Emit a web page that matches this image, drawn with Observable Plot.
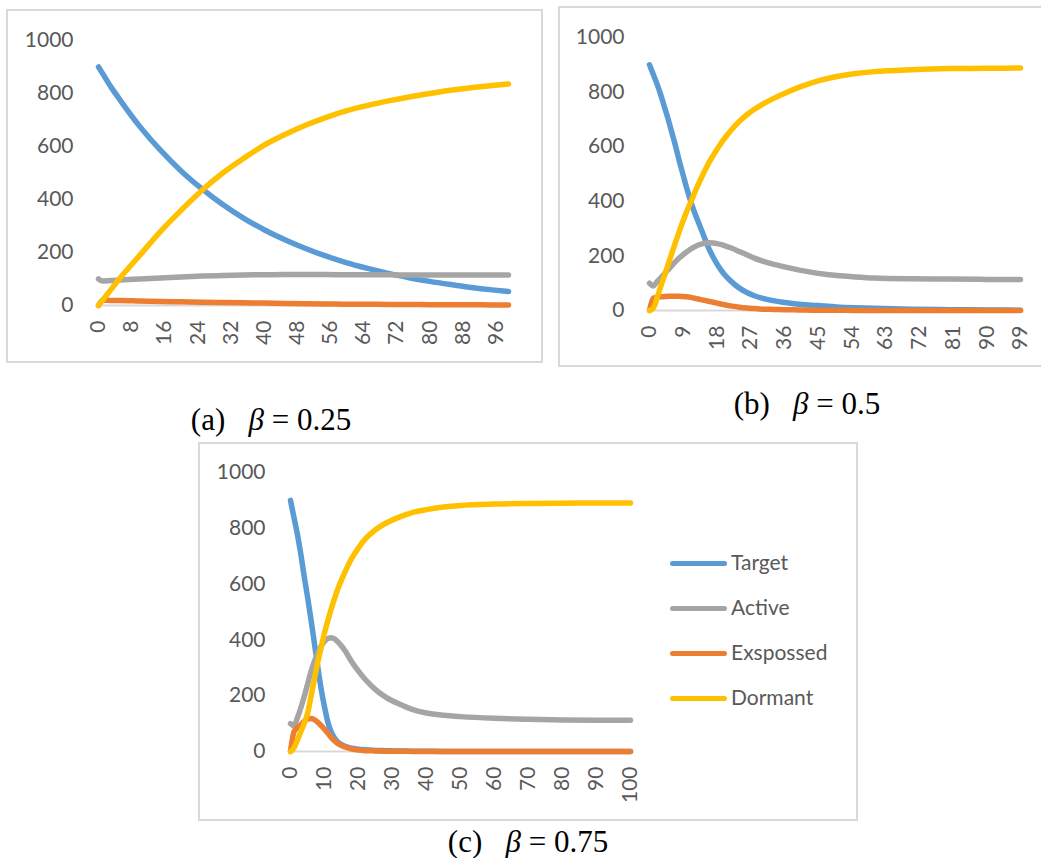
<!DOCTYPE html>
<html>
<head>
<meta charset="utf-8">
<script src="https://cdn.jsdelivr.net/npm/d3@7"></script>
<script src="https://cdn.jsdelivr.net/npm/@observablehq/plot@0.6"></script>
<style>
  html, body { margin: 0; padding: 0; background: #fff; }
  #page { position: relative; width: 1041px; height: 858px; overflow: hidden; background: #fff; }
  .panel { position: absolute; outline: 2px solid #d9d9d9; outline-offset: -1px; background: #fff; }
  .panel svg { display: block; }
  .cap { position: absolute; font-family: "Liberation Serif", "Times New Roman", serif; font-size: 31px; line-height: 30px; color: #000; white-space: pre; transform: translateX(-50%); }
  .cap i { font-style: italic; }
  .leg { position: absolute; font-family: Lato, "Open Sans", sans-serif; font-size: 21px; color: #595959; line-height: 26px; }
  .legline { position: absolute; height: 5px; width: 57px; border-radius: 3px; }
</style>
</head>
<body>
<div id="page"></div>
<script>
// ---------- data ----------
const seriesNames = ["Target", "Active", "Exspossed", "Dormant"];
const seriesColors = ["#5B9BD5", "#A5A5A5", "#ED7D31", "#FFC000"];
const yTicks = [0, 200, 400, 600, 800, 1000];

// (a) beta = 0.25
const timeA = [0, 1, 3, 5, 10, 15, 20, 25, 30, 35, 40, 45, 50, 55, 60, 65, 70, 75, 80, 85, 90, 95, 99];
const targetA = [900, 875, 825, 780, 675, 585, 507, 440, 381, 330, 286, 248, 215, 186, 161, 140, 121, 105, 91, 79, 68, 59, 53];
const activeA = [100, 92, 94, 96, 100, 104, 108, 111, 113, 115, 116, 117, 117, 117, 116, 116, 116, 115, 115, 115, 115, 115, 115];
const exposedA = [0, 20, 19, 19, 17, 15, 14, 12, 11, 10, 9, 8, 7, 6, 5, 5, 4, 4, 3, 3, 3, 2, 2];
const dormantA = [0, 20, 60, 100, 190, 280, 360, 435, 500, 555, 605, 645, 680, 710, 735, 755, 772, 787, 800, 812, 822, 830, 836];
const xTicksA = [0, 8, 16, 24, 32, 40, 48, 56, 64, 72, 80, 88, 96];

// (b) beta = 0.5
const timeB = [0, 1, 2, 3, 4, 5, 6, 7, 8, 9, 10, 11, 12, 13, 14, 15, 16, 17, 18, 19, 20, 22, 24, 26, 28, 30, 33, 36, 40, 45, 50, 55, 60, 70, 80, 90, 99];
const targetB = [900, 865, 830, 790, 745, 700, 650, 600, 545, 495, 445, 400, 360, 325, 290, 255, 222, 195, 171, 150, 132, 104, 82, 66, 54, 45, 36, 29, 23, 18, 13, 10, 8, 5, 3, 2, 1];
const activeB = [100, 90, 105, 120, 135, 150, 165, 180, 193, 205, 215, 225, 233, 240, 244, 247, 248, 247, 245, 242, 238, 228, 216, 204, 192, 182, 170, 160, 148, 136, 128, 123, 119, 116, 115, 114, 114];
const exposedB = [0, 44, 48, 50, 51, 52, 52, 52, 52, 51, 50, 48, 45, 42, 39, 36, 33, 30, 27, 24, 21, 16, 12, 9, 7, 5, 4, 3, 2, 1, 1, 0, 0, 0, 0, 0, 0];
const dormantB = [0, 8, 45, 88, 128, 170, 212, 252, 292, 330, 365, 397, 430, 461, 491, 519, 545, 568, 590, 611, 630, 664, 693, 717, 737, 754, 776, 795, 818, 841, 857, 868, 875, 882, 886, 887, 888];
const xTicksB = [0, 9, 18, 27, 36, 45, 54, 63, 72, 81, 90, 99];

// (c) beta = 0.75
const timeC = [0, 1, 2, 3, 4, 5, 6, 7, 8, 9, 10, 11, 12, 13, 14, 15, 16, 18, 20, 22, 25, 28, 32, 36, 40, 45, 50, 60, 70, 80, 90, 100];
const targetC = [900, 840, 780, 710, 630, 555, 475, 390, 305, 225, 160, 105, 70, 47, 33, 25, 19, 12, 8, 6, 4, 3, 2, 1, 1, 0, 0, 0, 0, 0, 0, 0];
const activeC = [100, 92, 120, 155, 195, 240, 285, 322, 353, 378, 395, 405, 408, 403, 392, 378, 362, 322, 288, 258, 222, 195, 170, 150, 138, 130, 125, 119, 116, 113, 112, 112];
const exposedC = [0, 70, 85, 95, 108, 116, 118, 114, 105, 93, 80, 65, 50, 38, 28, 21, 16, 9, 5, 3, 2, 1, 1, 0, 0, 0, 0, 0, 0, 0, 0, 0];
const dormantC = [0, 12, 40, 70, 100, 136, 195, 258, 318, 372, 425, 470, 512, 550, 585, 615, 643, 692, 730, 762, 795, 818, 840, 857, 867, 876, 882, 887, 889, 890, 891, 891];
const xTicksC = [0, 10, 20, 30, 40, 50, 60, 70, 80, 90, 100];

// ---------- layout ----------
const page = document.getElementById("page");

function toRows(time, cols) {
  const rows = [];
  cols.forEach((vals, k) => {
    time.forEach((t, i) => rows.push({t, v: vals[i], series: seriesNames[k]}));
  });
  return rows;
}

function panel(cfg) {
  const rows = toRows(cfg.time, cfg.cols);
  const svg = Plot.plot({
    width: cfg.width,
    height: cfg.height,
    marginLeft: cfg.ml, marginRight: cfg.mr, marginTop: cfg.mt, marginBottom: cfg.mb,
    style: {fontFamily: "Lato, 'Open Sans', sans-serif", fontSize: "21px", color: "#595959", background: "transparent", overflow: "visible"},
    x: {domain: cfg.xDomain},
    y: {domain: [0, 1000]},
    color: {domain: seriesNames, range: seriesColors},
    marks: [
      Plot.ruleY([0], {stroke: "#d9d9d9", strokeWidth: 2}),
      Plot.axisY({ticks: yTicks, tickFormat: d => String(d), tickSize: 0, tickPadding: 25, label: null, fill: "#595959"}),
      Plot.axisX({ticks: cfg.xTicks, tickFormat: d => String(d), tickSize: 0, tickPadding: 15, tickRotate: -90, label: null, fill: "#595959"}),
      Plot.line(rows, {x: "t", y: "v", z: "series", stroke: "series", strokeWidth: 5.5,
        strokeLinecap: "round", strokeLinejoin: "round", curve: "monotone-x"})
    ]
  });
  const div = document.createElement("div");
  div.className = "panel";
  div.style.left = cfg.left + "px";
  div.style.top = cfg.top + "px";
  div.style.width = cfg.width + "px";
  div.style.height = cfg.height + "px";
  div.appendChild(svg);
  page.appendChild(div);
}

panel({time: timeA, cols: [targetA, activeA, exposedA, dormantA], xTicks: xTicksA, xDomain: [0, 99],
  left: 7, top: 10, width: 535, height: 352, ml: 91, mr: 34, mt: 30, mb: 57});
panel({time: timeB, cols: [targetB, activeB, exposedB, dormantB], xTicks: xTicksB, xDomain: [0, 99],
  left: 559, top: 7, width: 490, height: 359, ml: 90, mr: 29, mt: 30, mb: 56});
panel({time: timeC, cols: [targetC, activeC, exposedC, dormantC], xTicks: xTicksC, xDomain: [0, 100],
  left: 199, top: 443, width: 658, height: 377, ml: 91, mr: 227, mt: 29, mb: 69});

// legend for (c)
const legendY = [563, 608, 653, 698];
seriesNames.forEach((name, i) => {
  const ln = document.createElement("div");
  ln.className = "legline";
  ln.style.left = "670px";
  ln.style.top = (legendY[i] - 2.5) + "px";
  ln.style.background = seriesColors[i];
  page.appendChild(ln);
  const tx = document.createElement("div");
  tx.className = "leg";
  tx.style.left = "731px";
  tx.style.top = (legendY[i] - 14) + "px";
  tx.textContent = name;
  page.appendChild(tx);
});

// captions
const captions = [
  {label: "(a)", beta: "0.25", cx: 271, cy: 420},
  {label: "(b)", beta: "0.5", cx: 807, cy: 404},
  {label: "(c)", beta: "0.75", cx: 528, cy: 842}
];
captions.forEach(c => {
  const d = document.createElement("div");
  d.className = "cap";
  d.style.left = c.cx + "px";
  d.style.top = (c.cy - 15) + "px";
  d.innerHTML = c.label + "   <i>β</i> = " + c.beta;
  page.appendChild(d);
});
</script>
</body>
</html>
